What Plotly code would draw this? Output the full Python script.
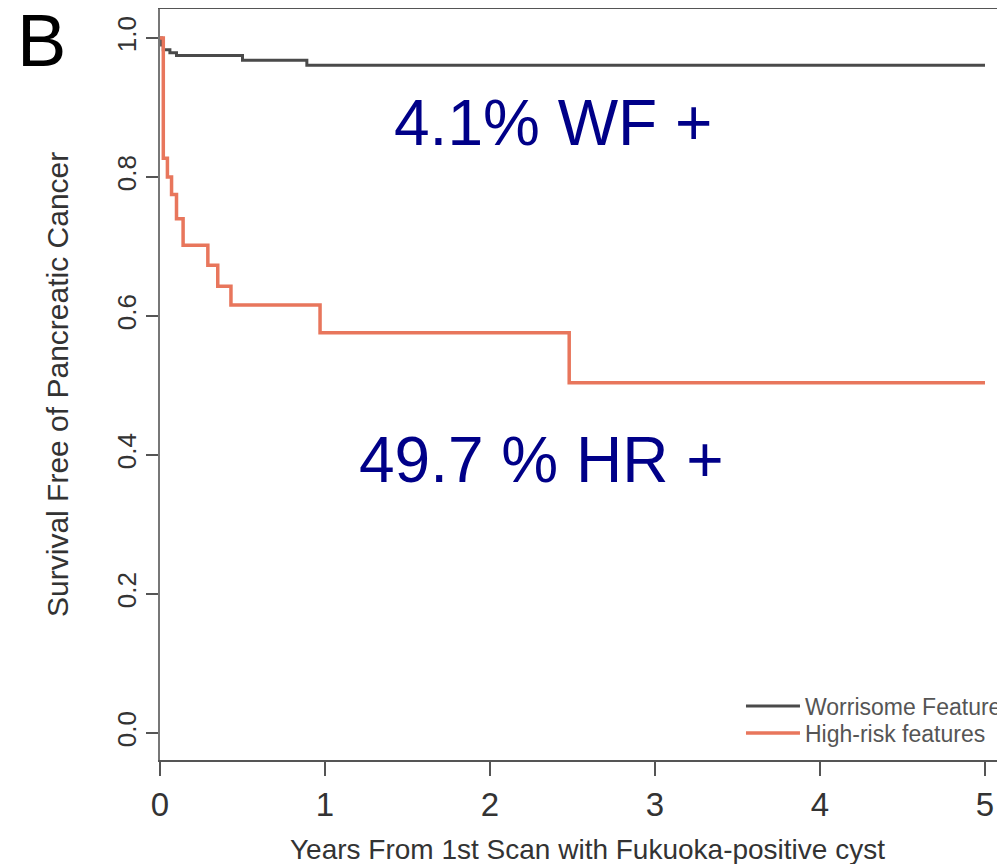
import plotly.graph_objects as go

# Kaplan-Meier step data (years, survival)
wf_time = [0, 0.01, 0.02, 0.06, 0.10, 0.50, 0.89, 5.0]
wf_surv = [1.0, 0.990, 0.983, 0.979, 0.975, 0.968, 0.961, 0.961]

hr_time = [0, 0.02, 0.045, 0.07, 0.10, 0.14, 0.29, 0.35, 0.43, 0.97, 2.48, 5.0]
hr_surv = [1.0, 0.827, 0.800, 0.775, 0.740, 0.702, 0.673, 0.643, 0.616, 0.576, 0.504, 0.504]

x_ticks = [0, 1, 2, 3, 4, 5]
y_ticks = [0.0, 0.2, 0.4, 0.6, 0.8, 1.0]
y_tick_labels = ["0.0", "0.2", "0.4", "0.6", "0.8", "1.0"]

FONT = "Liberation Sans, Arial, sans-serif"

fig = go.Figure()
fig.add_trace(go.Scatter(x=wf_time, y=wf_surv, mode="lines", line_shape="hv",
                         line=dict(color="#4a4a4a", width=3),
                         name="Worrisome Features", legend="legend"))
fig.add_trace(go.Scatter(x=hr_time, y=hr_surv, mode="lines", line_shape="hv",
                         line=dict(color="#e8765c", width=3.5),
                         name="High-risk features", legend="legend2"))

legend_common = dict(xanchor="left", yanchor="middle", bgcolor="rgba(0,0,0,0)",
                     font=dict(size=23, color="#555"), itemwidth=54)

fig.update_layout(
    width=1005, height=864,
    margin=dict(l=152, r=0, t=1, b=112, autoexpand=False),
    paper_bgcolor="white", plot_bgcolor="white",
    font=dict(family=FONT, color="#333"),
    showlegend=True,
    legend=dict(x=0.6811, y=0.0719, **legend_common),
    legend2=dict(x=0.6811, y=0.036, **legend_common),
    xaxis=dict(range=[0, 5.1697], tickvals=x_ticks, ticks="outside", ticklen=14,
               tickwidth=2, tickcolor="#555", showline=True, linecolor="#555",
               linewidth=2, mirror=True, showgrid=False, zeroline=False,
               tickfont=dict(size=33, color="#333")),
    yaxis=dict(range=[-0.0388, 1.0418], tickvals=y_ticks, ticktext=y_tick_labels,
               ticks="outside", ticklen=12, tickwidth=2, tickcolor="#555",
               showline=True, linecolor="#777", linewidth=2, showgrid=False,
               zeroline=False, tickangle=-90, tickfont=dict(size=26, color="#333")),
    annotations=[
        dict(text="B", xref="paper", yref="paper", x=-0.1395, y=0.9587,
             xanchor="center", yanchor="middle", showarrow=False,
             font=dict(size=74, color="black")),
        dict(text="Survival Free of Pancreatic Cancer", xref="paper", yref="paper",
             x=-0.1196, y=0.5007, xanchor="center", yanchor="middle", textangle=-90,
             showarrow=False, font=dict(size=30, color="#333")),
        dict(text="Years From 1st Scan with Fukuoka-positive cyst", xref="paper",
             yref="paper", x=0.5012, y=-0.1198, xanchor="center", yanchor="middle",
             showarrow=False, font=dict(size=28, color="#333")),
        dict(text="4.1% WF +", xref="x", yref="y", x=2.379, y=0.878,
             xanchor="center", yanchor="middle", showarrow=False,
             font=dict(size=64, color="#000088")),
        dict(text="49.7 % HR +", xref="x", yref="y", x=2.315, y=0.393,
             xanchor="center", yanchor="middle", showarrow=False,
             font=dict(size=64, color="#000088")),
    ],
)

fig.write_html("out.html")
